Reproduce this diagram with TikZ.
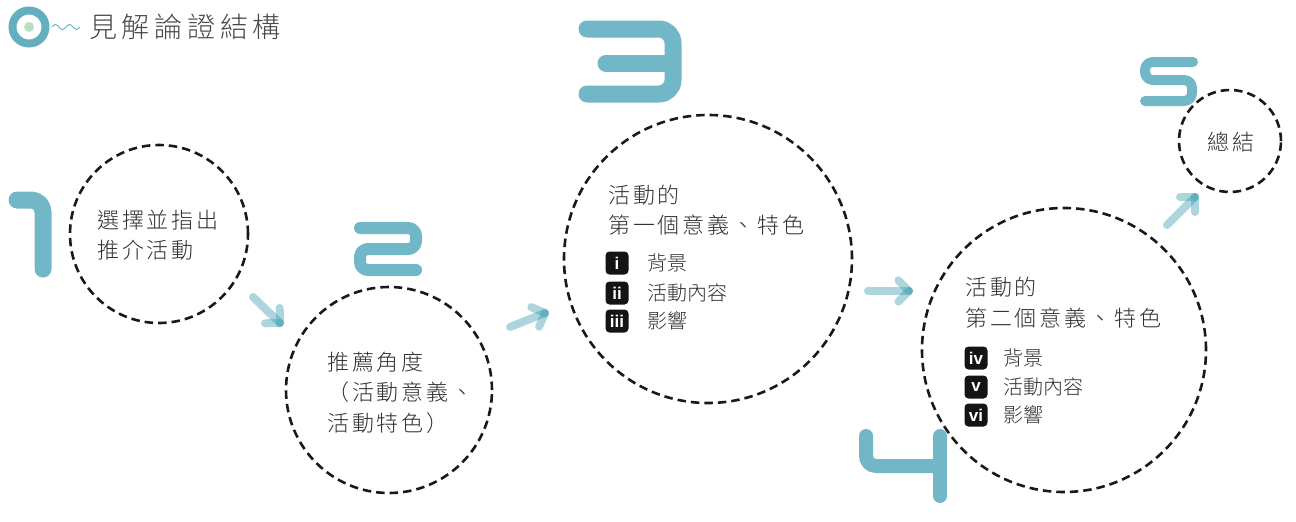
\documentclass[tikz,border=0pt]{standalone}
\usepackage{fontspec}
\usetikzlibrary{calc}
\IfFontExistsTF{Noto Sans CJK TC Light}{%
  \newfontfamily\cjk{Noto Sans CJK TC Light}
  \newfontfamily\cjksp{Noto Sans CJK TC Light}[LetterSpace=13]
}{%
  \newfontfamily\cjk{Noto Sans CJK TC}
  \newfontfamily\cjksp{Noto Sans CJK TC}[LetterSpace=13]
}
\newfontfamily\badgefont{Liberation Sans}
\definecolor{numc}{HTML}{72B7C7}
\definecolor{arrc}{HTML}{3A9BB0}
\definecolor{ringc}{HTML}{63AFC1}
\definecolor{dotc}{HTML}{B8DEC4}
\definecolor{txtc}{HTML}{303030}
\definecolor{titc}{HTML}{484848}
\tikzset{
  dcirc/.style={circle, draw=black!90, line width=2.6pt, dash pattern=on 8.5pt off 5pt, inner sep=0pt},
  numstroke/.style={draw=numc, line cap=round, line join=round},
  arr/.style={draw=arrc, draw opacity=0.42, line width=8pt, line cap=round},
  ctext/.style={anchor=west, inner sep=0pt, text=txtc, font=\cjksp\fontsize{22}{30}\selectfont},
  itext/.style={anchor=west, inner sep=0pt, text=txtc, font=\cjk\fontsize{20}{26}\selectfont},
  badge/.style={fill=black!92, rounded corners=4pt, minimum width=23pt, minimum height=23pt, inner sep=0pt, text=white, font=\badgefont\bfseries\fontsize{17}{17}\selectfont}
}
\begin{document}
\begin{tikzpicture}[x=1pt,y=-1pt]
\useasboundingbox (0,0) rectangle (1296,522);
% title
\draw[ringc, line width=8pt] (29,27) circle (16.5);
\fill[dotc] (29,27) circle (5);
\draw[ringc, line width=0.9pt] (52,27) sin (55.5,24.5) cos (59,27) sin (62.5,29.5) cos (66,27) sin (69.5,24.5) cos (73,27) sin (76.5,29.5) cos (80,27);
\node[anchor=west, inner sep=0pt, text=titc, font=\cjk\addfontfeature{LetterSpace=17}\fontsize{28}{30}\selectfont] (title) at (89,27) {見解論證結構};
% circles
\node[dcirc, minimum size=178pt] (c1) at (159,234) {};
\node[dcirc, minimum size=206pt] (c2) at (389,390) {};
\node[dcirc, minimum size=288pt] (c3) at (708,259) {};
\node[dcirc, minimum size=284pt] (c4) at (1064,350) {};
\node[dcirc, minimum size=102pt] (c5) at (1230,141) {};
% numbers
\draw[numstroke, line width=17pt, rounded corners=12pt] (17,200) -- (43,200) -- (43,269);
\draw[numstroke, line width=12pt, rounded corners=8pt] (360,228) -- (416,228) -- (416,249) -- (360,249) -- (360,270) -- (416,270);
\draw[numstroke, line width=17pt, rounded corners=14pt] (587,29) -- (673,29) -- (673,94) -- (587,94);
\draw[numstroke, line width=17pt] (606,63) -- (668,63);
\draw[numstroke, line width=14pt, rounded corners=10pt] (866,436) -- (866,466) -- (940,466);
\draw[numstroke, line width=14pt] (940,436) -- (940,496);
\draw[numstroke, line width=10pt, rounded corners=8pt] (1193,62) -- (1145,62) -- (1145,80) -- (1192,80) -- (1192,101) -- (1145,101);
% texts circle 1
\node[ctext] (t1a) at (97,220) {選擇並指出};
\node[ctext] (t1b) at (97,250) {推介活動};
% circle 2
\node[ctext] (t2a) at (327,362) {推薦角度};
\node[ctext] (t2b) at (327,392) {（活動意義、};
\node[ctext] (t2c) at (327,423) {活動特色）};
% circle 3
\node[ctext] (t3a) at (608,195) {活動的};
\node[ctext] (t3b) at (608,225) {第一個意義、特色};
\node[badge] (b1) at (617,263) {i};
\node[badge] (b2) at (617,293) {ii};
\node[badge] (b3) at (617,321) {iii};
\node[itext] (i1) at (647,263) {背景};
\node[itext] (i2) at (647,293) {活動內容};
\node[itext] (i3) at (647,321) {影響};
% circle 4
\node[ctext] (t4a) at (965,287) {活動的};
\node[ctext] (t4b) at (965,318) {第二個意義、特色};
\node[badge] (b4) at (976,358) {iv};
\node[badge] (b5) at (976,387) {v};
\node[badge] (b6) at (976,415) {vi};
\node[itext] (i4) at (1003,358) {背景};
\node[itext] (i5) at (1003,387) {活動內容};
\node[itext] (i6) at (1003,415) {影響};
% circle 5
\node[ctext, anchor=center] (t5) at (1231,142) {總結};
% arrows
\coordinate (a1s) at (253,297); \coordinate (a1t) at (280,323);
\coordinate (a2s) at (510,327); \coordinate (a2t) at (545,313);
\coordinate (a3s) at (868,291); \coordinate (a3t) at (909,291);
\coordinate (a4s) at (1167,225); \coordinate (a4t) at (1195,197);
\foreach \s/\t in {a1s/a1t, a2s/a2t, a3s/a3t, a4s/a4t}{
  \draw[arr] (\s) -- (\t);
  \draw[arr] (\t) -- ($(\t)!15pt!45:(\s)$);
  \draw[arr] (\t) -- ($(\t)!15pt!-45:(\s)$);
}
\end{tikzpicture}
\end{document}
